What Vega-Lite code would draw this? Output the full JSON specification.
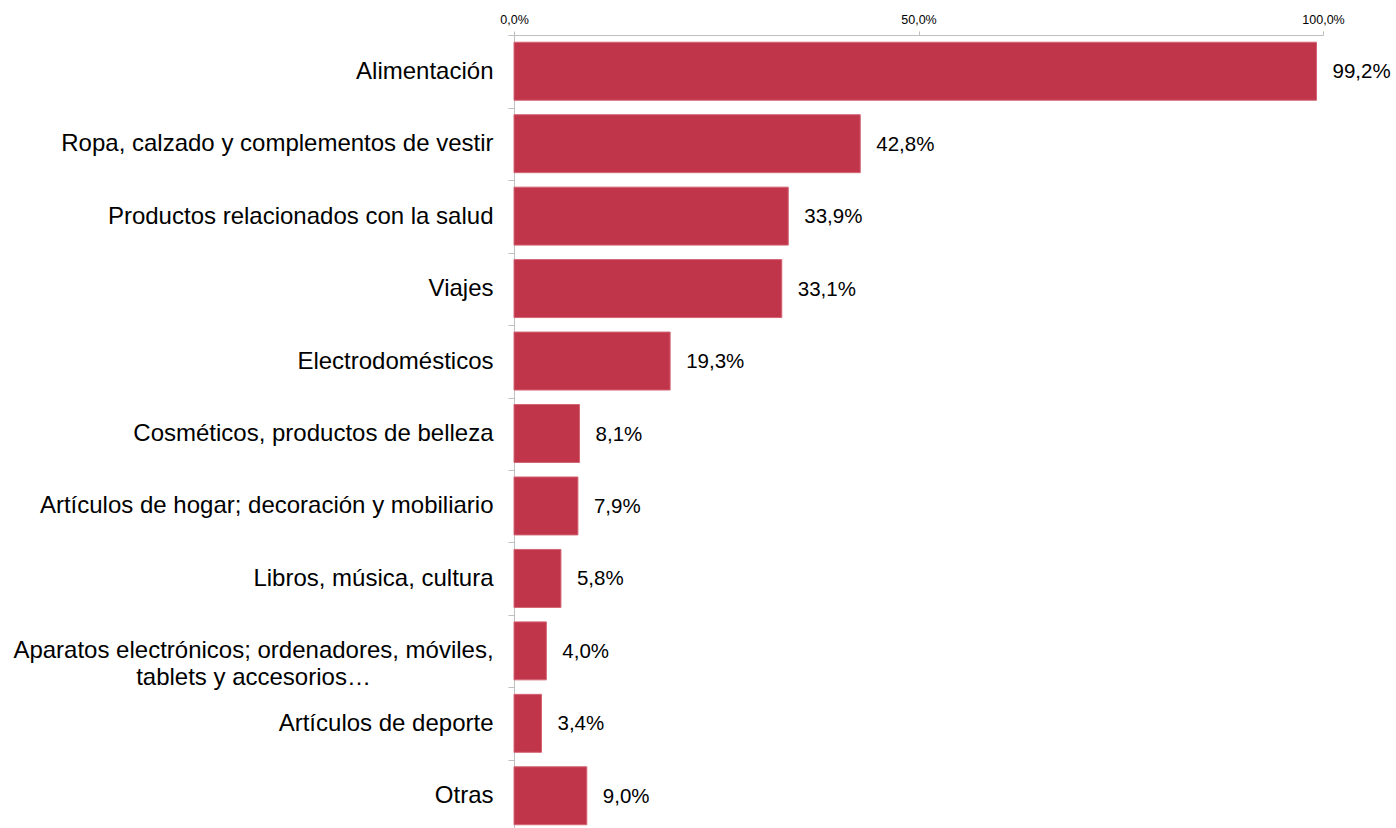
{
  "$schema": "https://vega.github.io/schema/vega-lite/v6.json",
  "autosize": {"type": "none"},
  "padding": {"left": 514, "top": 35, "right": 73, "bottom": -4},
  "width": 809,
  "height": 797,
  "background": "white",
  "data": {
    "values": [
      {"categoria": "Alimentación", "valor": 0.992},
      {"categoria": "Ropa, calzado y complementos de vestir", "valor": 0.428},
      {"categoria": "Productos relacionados con la salud", "valor": 0.339},
      {"categoria": "Viajes", "valor": 0.331},
      {"categoria": "Electrodomésticos", "valor": 0.193},
      {"categoria": "Cosméticos, productos de belleza", "valor": 0.081},
      {"categoria": "Artículos de hogar; decoración y mobiliario", "valor": 0.079},
      {"categoria": "Libros, música, cultura", "valor": 0.058},
      {"categoria": "Aparatos electrónicos; ordenadores, móviles,\ntablets y accesorios…", "valor": 0.040},
      {"categoria": "Artículos de deporte", "valor": 0.034},
      {"categoria": "Otras", "valor": 0.090}
    ]
  },
  "encoding": {
    "y": {
      "field": "categoria",
      "type": "nominal",
      "sort": null,
      "scale": {"paddingInner": 0.2, "paddingOuter": 0.1},
      "axis": {
        "title": null,
        "labelFont": "Liberation Sans",
        "labelFontSize": 24,
        "labelColor": "#000000",
        "labelLimit": 700,
        "labelAlign": {"condition": {"test": "indexof(datum.label, '\\n') > 0", "value": "center"}, "value": "right"},
        "labelPadding": {"condition": {"test": "indexof(datum.label, '\\n') > 0", "value": 255}, "value": 15},
        "labelLineHeight": 27,
        "labelExpr": "split(datum.label, '\\n')",
        "bandPosition": 0,
        "tickOffset": -7,
        "labelOffset": 7,
        "tickSize": 6,
        "tickColor": "#BFBFBF",
        "domainColor": "#BFBFBF",
        "ticks": true,
        "domain": true
      }
    }
  },
  "layer": [
    {
      "mark": {"type": "bar", "color": "#C0354A", "stroke": "#D46474", "strokeWidth": 1},
      "encoding": {
        "x": {
          "field": "valor",
          "type": "quantitative",
          "scale": {"domain": [0, 1], "nice": false},
          "axis": {
            "orient": "top",
            "title": null,
            "values": [0, 0.5, 1],
            "format": ".1%",
            "grid": false,
            "labelFlush": false,
            "labelFont": "Liberation Sans",
            "labelFontSize": 12.5,
            "labelColor": "#000000",
            "labelPadding": 5,
            "tickSize": 4,
            "tickColor": "#BFBFBF",
            "domainColor": "#BFBFBF"
          }
        }
      }
    },
    {
      "mark": {"type": "text", "align": "left", "baseline": "middle", "dx": 16, "dy": 1, "font": "Liberation Sans", "fontSize": 20.5, "color": "#000000"},
      "encoding": {
        "x": {"field": "valor", "type": "quantitative"},
        "text": {"field": "valor", "type": "quantitative", "format": ".1%"}
      }
    }
  ],
  "config": {
    "view": {"stroke": null},
    "locale": {
      "number": {"decimal": ",", "thousands": ".", "grouping": [3], "currency": ["", " €"]}
    }
  }
}
